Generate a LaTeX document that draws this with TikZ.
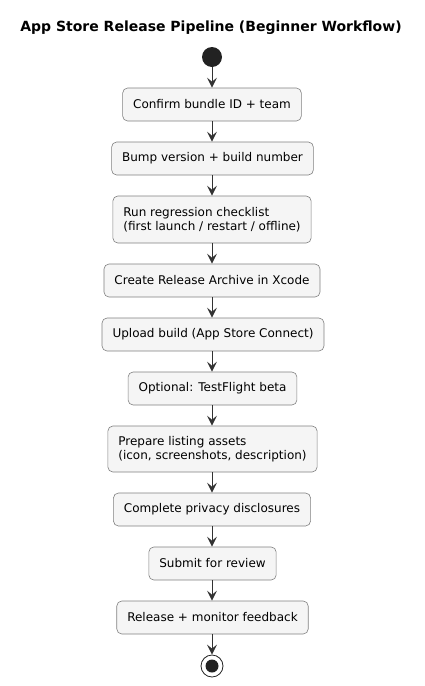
\documentclass[tikz,border=0pt]{standalone}
\usepackage{fontspec}
\setmainfont{DejaVu Sans}
\usetikzlibrary{arrows.meta}
\definecolor{boxfill}{HTML}{F5F5F5}
\definecolor{boxline}{HTML}{808080}
\definecolor{ink}{HTML}{222222}
\definecolor{arrowink}{HTML}{333333}
\begin{document}
\begin{tikzpicture}[x=1pt,y=-1pt,
  act/.style={draw=boxline, fill=boxfill, line width=0.6pt, rounded corners=5pt,
    inner xsep=10.5pt, inner ysep=0pt, minimum height=33pt, align=left,
    font=\fontsize{12}{14}\selectfont, text=black},
  flow/.style={draw=arrowink, line width=1pt, -{Stealth[length=10pt,width=10pt,inset=4pt]}}]
\useasboundingbox (0,0) rectangle (424,686);
\node[font=\bfseries\fontsize{14}{16}\selectfont] (title) at (211,28) {App Store Release Pipeline (Beginner Workflow)};
\node[circle, fill=ink, minimum size=20pt, inner sep=0pt] (start) at (212,57) {};
\node[act] (a1) at (212,104.5) {Confirm bundle ID + team};
\node[act] (a2) at (212.5,158.5) {Bump version + build number};
\node[act, minimum height=47pt] (a3) at (212,219.5) {Run regression checklist\\(first launch / restart / offline)};
\node[act] (a4) at (212,280.5) {Create Release Archive in Xcode};
\node[act] (a5) at (213,334.5) {Upload build (App Store Connect)};
\node[act] (a6) at (212.5,388.5) {Optional: TestFlight beta};
\node[act, minimum height=46pt] (a7) at (212.5,449) {Prepare listing assets\\(icon, screenshots, description)};
\node[act] (a8) at (212,509.5) {Complete privacy disclosures};
\node[act] (a9) at (212.5,563.5) {Submit for review};
\node[act] (a10) at (212.5,617.5) {Release + monitor feedback};
\node[circle, draw=ink, fill=white, line width=0.8pt, minimum size=22pt, inner sep=0pt] (stop) at (212,666) {};
\node[circle, fill=ink, minimum size=13pt, inner sep=0pt] (stopdot) at (212,666) {};
\draw[flow] (start) -- (start |- a1.north);
\draw[flow] (a1.south -| start) -- (start |- a2.north);
\draw[flow] (a2.south -| start) -- (start |- a3.north);
\draw[flow] (a3.south -| start) -- (start |- a4.north);
\draw[flow] (a4.south -| start) -- (start |- a5.north);
\draw[flow] (a5.south -| start) -- (start |- a6.north);
\draw[flow] (a6.south -| start) -- (start |- a7.north);
\draw[flow] (a7.south -| start) -- (start |- a8.north);
\draw[flow] (a8.south -| start) -- (start |- a9.north);
\draw[flow] (a9.south -| start) -- (start |- a10.north);
\draw[flow] (a10.south -| start) -- (stop);
\end{tikzpicture}
\end{document}
